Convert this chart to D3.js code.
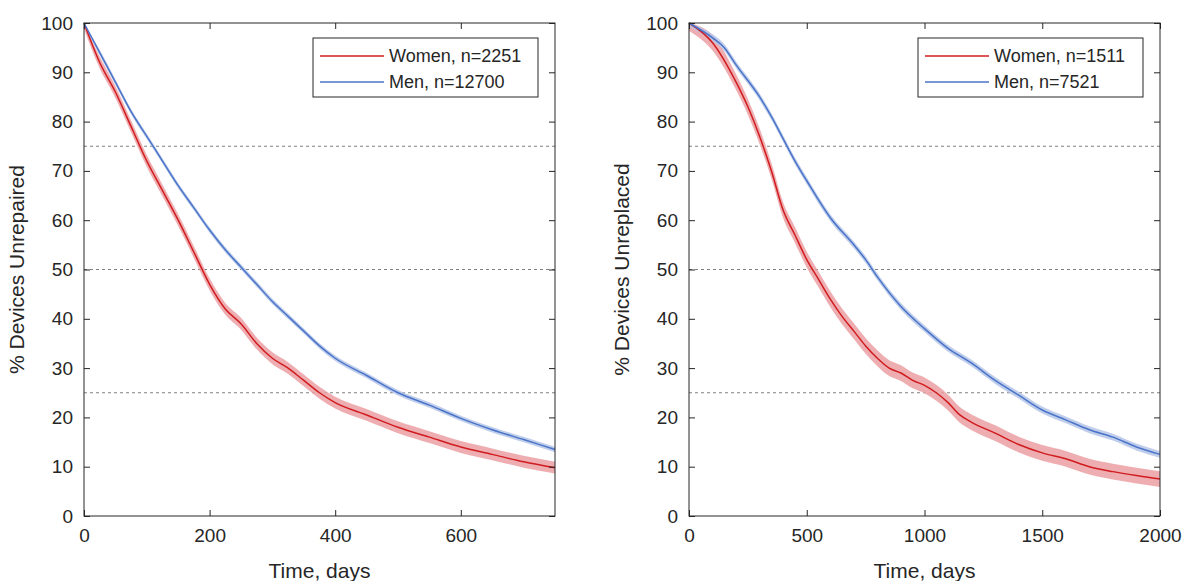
<!DOCTYPE html>
<html>
<head>
<meta charset="utf-8">
<script src="https://cdn.jsdelivr.net/npm/d3@7"></script>
<style>
body { margin: 0; background: #fff; }
text { font-family: "Liberation Sans", Arial, sans-serif; fill: #262626; }
</style>
</head>
<body>
<svg id="chart" width="1184" height="581"></svg>
<script>
// Panel 1: repair (days 0-750)
var repairDays = [0, 25, 50, 75, 100, 125, 150, 175, 200, 225, 250, 275, 300, 325, 350, 375, 400, 450, 500, 550, 600, 650, 700, 750];
var repairWomen = [100, 92, 86, 79, 72, 66, 60, 53.5, 47, 42, 39, 35, 32, 30, 27.5, 25, 23, 20.5, 18, 16, 14, 12.5, 11, 9.8];
var repairMen = [100, 94, 88, 82, 77, 72, 67, 62.5, 58, 54, 50.5, 47, 43.5, 40.5, 37.5, 34.5, 32, 28.5, 25, 22.5, 19.8, 17.5, 15.5, 13.5];

// Panel 2: replacement (days 0-2000)
var replWomenDays = [0, 100, 200, 250, 300, 350, 400, 450, 500, 550, 600, 650, 700, 750, 800, 850, 900, 950, 1000, 1050, 1100, 1150, 1200, 1300, 1400, 1500, 1600, 1700, 1800, 1900, 2000];
var replWomen = [100, 96, 88, 83, 77, 70, 62, 57, 52, 48, 44, 40.5, 37.5, 34.5, 32, 30, 29, 27.5, 26.5, 25, 23, 20.5, 19, 16.8, 14.5, 12.8, 11.6, 10, 9, 8.2, 7.5];
var replMenDays = [0, 100, 150, 200, 300, 350, 400, 450, 500, 600, 700, 750, 800, 900, 1000, 1100, 1200, 1300, 1400, 1500, 1600, 1700, 1800, 1900, 2000];
var replMen = [100, 97, 95, 91.5, 85, 81, 76.5, 72, 68, 60.5, 55, 52, 48.5, 42.5, 38, 34, 31, 27.5, 24.5, 21.5, 19.5, 17.5, 16, 14, 12.5];

var yTicks = [0, 10, 20, 30, 40, 50, 60, 70, 80, 90, 100];
var refLines = [25, 50, 75];

var panels = [
  { left: 84, right: 555, xMax: 750, xTicks: [0, 200, 400, 600], yLabel: "% Devices Unrepaired",
    series: [
      { name: "Women, n=2251", days: repairDays, vals: repairWomen, color: "#d01c1f", band: "#eba0a3", ci: 1.2 },
      { name: "Men, n=12700", days: repairDays, vals: repairMen, color: "#4a74c9", band: "#b5c6e8", ci: 0.55 }
    ], legend: { x: 313, w: 225 } },
  { left: 689, right: 1160, xMax: 2000, xTicks: [0, 500, 1000, 1500, 2000], yLabel: "% Devices Unreplaced",
    series: [
      { name: "Women, n=1511", days: replWomenDays, vals: replWomen, color: "#d01c1f", band: "#eba0a3", ci: 1.6 },
      { name: "Men, n=7521", days: replMenDays, vals: replMen, color: "#4a74c9", band: "#b5c6e8", ci: 0.7 }
    ], legend: { x: 918, w: 225 } }
];

var plotTop = 23, plotBottom = 516;
var svg = d3.select("#chart");

panels.forEach(function(p) {
  var x = d3.scaleLinear().domain([0, p.xMax]).range([p.left, p.right]);
  var y = d3.scaleLinear().domain([0, 100]).range([plotBottom, plotTop]);
  var g = svg.append("g");

  // líneas de referencia
  g.selectAll("line.ref").data(refLines).enter().append("line")
    .attr("x1", p.left).attr("x2", p.right)
    .attr("y1", d => y(d)).attr("y2", d => y(d))
    .attr("stroke", "#808080").attr("stroke-width", 1).attr("stroke-dasharray", "3,3");

  // bandas y curvas
  p.series.forEach(function(s) {
    var pts = s.days.map((d, i) => [d, s.vals[i]]);
    var area = d3.area().x(d => x(d[0])).y0(d => y(d[1] - s.ci)).y1(d => y(Math.min(100, d[1] + s.ci))).curve(d3.curveMonotoneX);
    g.append("path").attr("d", area(pts)).attr("fill", s.band).attr("opacity", 0.85);
  });
  p.series.forEach(function(s) {
    var pts = s.days.map((d, i) => [d, s.vals[i]]);
    var line = d3.line().x(d => x(d[0])).y(d => y(d[1])).curve(d3.curveMonotoneX);
    g.append("path").attr("d", line(pts)).attr("fill", "none").attr("stroke", s.color).attr("stroke-width", 1.5);
  });

  // caja
  g.append("rect").attr("x", p.left).attr("y", plotTop).attr("width", p.right - p.left).attr("height", plotBottom - plotTop)
    .attr("fill", "none").attr("stroke", "#262626").attr("stroke-width", 1);

  var xb = d3.axisBottom(x).tickValues(p.xTicks).tickSize(-6).tickPadding(13).tickFormat(d3.format("d"));
  var xt = d3.axisTop(x).tickValues(p.xTicks).tickSize(-6).tickFormat("");
  var yl = d3.axisLeft(y).tickValues(yTicks).tickSize(-6).tickPadding(11);
  var yr = d3.axisRight(y).tickValues(yTicks).tickSize(-6).tickFormat("");
  [[xb, "translate(0," + plotBottom + ")"], [xt, "translate(0," + plotTop + ")"],
   [yl, "translate(" + p.left + ",0)"], [yr, "translate(" + p.right + ",0)"]].forEach(function(a) {
    var ax = g.append("g").attr("transform", a[1]).call(a[0]);
    ax.select(".domain").remove();
    ax.selectAll("line").attr("stroke", "#262626");
    ax.selectAll("text").style("font-size", "19px").style("font-family", "Liberation Sans, Arial, sans-serif");
  });

  g.append("text").attr("x", (p.left + p.right) / 2).attr("y", 578).attr("text-anchor", "middle")
    .style("font-size", "21px").text("Time, days");
  g.append("text").attr("transform", "translate(" + (p.left - 60) + "," + ((plotTop + plotBottom) / 2) + ") rotate(-90)")
    .attr("text-anchor", "middle").style("font-size", "21px").text(p.yLabel);

  // leyenda
  var lg = g.append("g").attr("transform", "translate(" + p.legend.x + ",38)");
  lg.append("rect").attr("width", p.legend.w).attr("height", 59).attr("fill", "#fff").attr("stroke", "#262626");
  p.series.forEach(function(s, i) {
    var yy = 18 + i * 26;
    lg.append("line").attr("x1", 7).attr("x2", 71).attr("y1", yy).attr("y2", yy).attr("stroke", s.color).attr("stroke-width", 1.5);
    lg.append("text").attr("x", 76).attr("y", yy + 6).style("font-size", "18px").text(s.name);
  });
});
</script>
</body>
</html>
